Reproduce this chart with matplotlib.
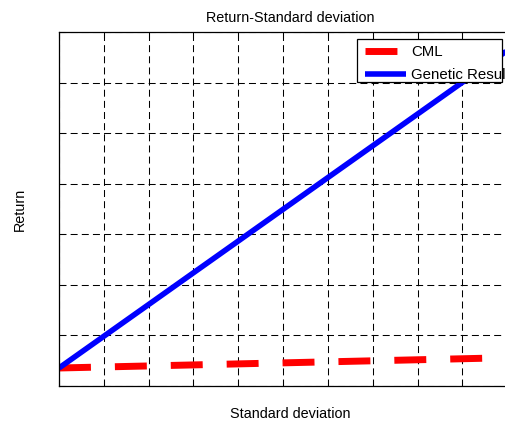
import matplotlib
matplotlib.use("Agg")
import matplotlib.pyplot as plt
from matplotlib.patches import Rectangle

plt.rcParams['font.family'] = ['Liberation Sans', 'DejaVu Sans']

# data (grid units, no tick labels shown)
std_dev = [0.0, 10.33]
cml_return = [0.356, 0.566]
genetic_return = [0.356, 6.84]
x_ticks = list(range(0, 11))
y_ticks = list(range(0, 8))

fig = plt.figure(figsize=(5.05, 4.21), dpi=100)
ax = fig.add_axes([59 / 505, 1 - 386 / 421, (522 - 59) / 505, (386 - 32) / 421])

cml, = ax.plot(std_dev, cml_return, color='red', lw=5, linestyle=(0, (4.6, 3.45)),
               dash_capstyle='butt', label='CML')
gen, = ax.plot(std_dev, genetic_return, color='blue', lw=4, solid_capstyle='butt',
               label='Genetic Result')

ax.set_xlim(0, 10.33)
ax.set_ylim(0, 7)
ax.set_xticks(x_ticks)
ax.set_yticks(y_ticks)
ax.tick_params(direction='in', length=4, width=0.75, top=True, right=True,
               labelbottom=False, labelleft=False)
ax.grid(True, color='black', lw=0.75, linestyle=(0, (6.7, 4)))
for s in ax.spines.values():
    s.set_linewidth(0.9)
    s.set_color('black')

ax.set_title('Return-Standard deviation', fontsize=10.4, pad=7)
ax.set_xlabel('Standard deviation', fontsize=10.4, labelpad=15)
ax.set_ylabel('Return', fontsize=10.4, labelpad=23)

# legend box (text runs past the frame like the original)
fig.patches.append(Rectangle((357 / 505, 1 - 82 / 421), (502 - 357) / 505, (82 - 39) / 421,
                             transform=fig.transFigure, facecolor='white',
                             edgecolor='black', lw=0.9, zorder=5))
leg = fig.legend(handles=[cml, gen], loc='upper left',
                 bbox_to_anchor=(365 / 505, 1 - 45 / 421),
                 bbox_transform=fig.transFigure, frameon=False, fontsize=10.8,
                 borderpad=0, borderaxespad=0, handlelength=2.75,
                 handletextpad=0.33, labelspacing=0.6)
leg.set_zorder(6)

fig.savefig('out.png', dpi=100)
